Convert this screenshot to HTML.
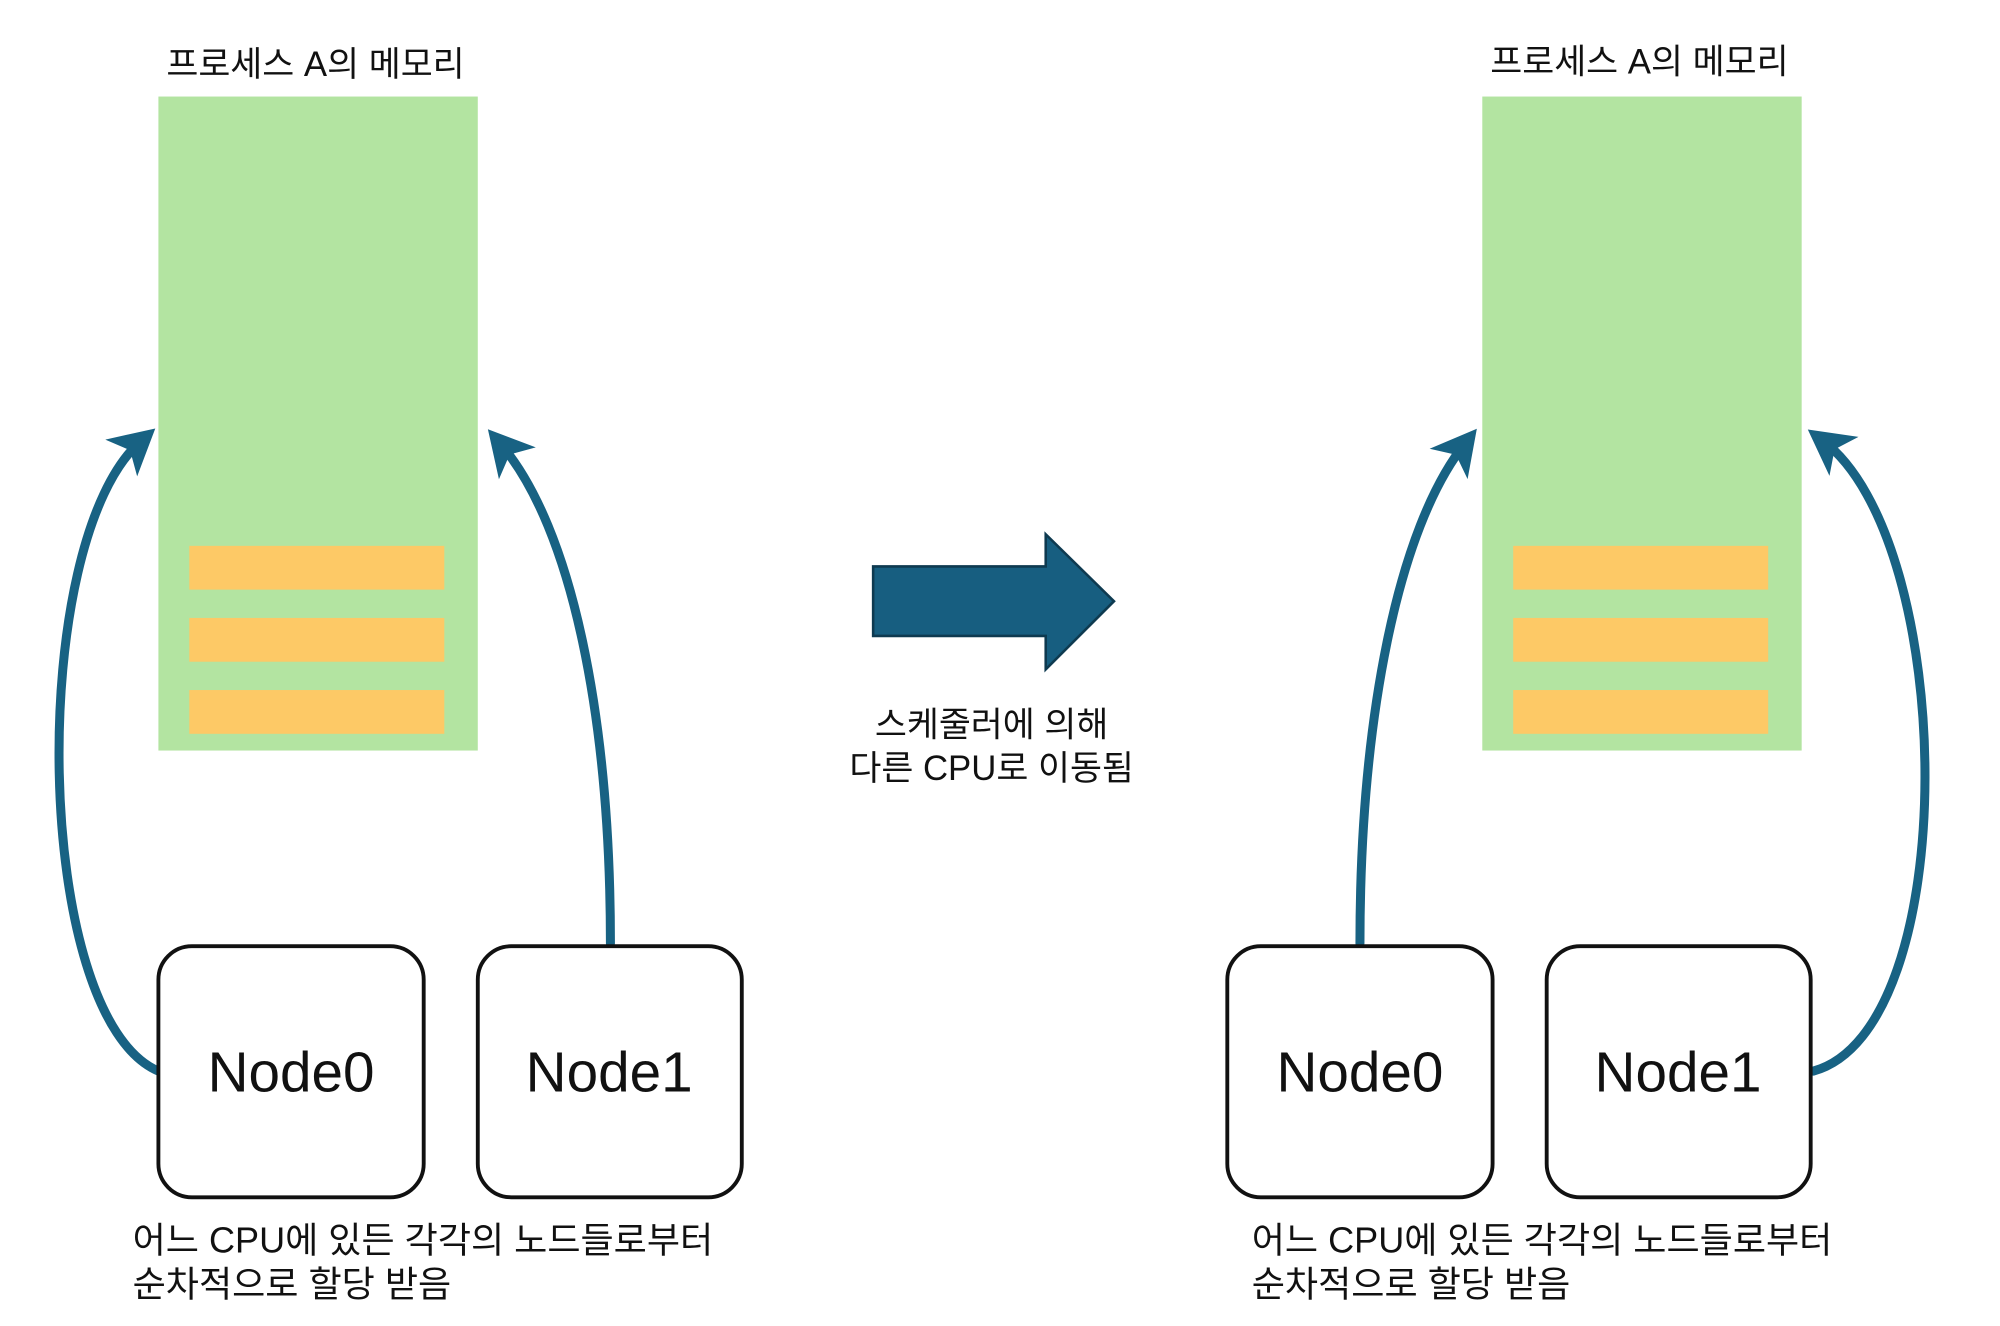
<!DOCTYPE html>
<html><head><meta charset="utf-8"><style>
html,body{margin:0;padding:0;background:#fff;}
svg{display:block;}
text{font-family:"Liberation Sans","Noto Sans CJK KR","NanumGothic",sans-serif;fill:#111;}
</style></head><body>
<svg width="2000" height="1326" viewBox="0 0 1553 1030" preserveAspectRatio="none" xmlns="http://www.w3.org/2000/svg">
<defs>
<marker id="ah" markerWidth="6" markerHeight="6" refX="3" refY="3" orient="auto" markerUnits="strokeWidth">
<path d="M0,0.3 L5,3 L0,5.7 L1.3,3 Z" fill="#186283"/>
</marker>
</defs>
<!-- titles -->
<text x="245" y="59" font-size="27" text-anchor="middle">프로세스 A의 메모리</text>
<text x="1273" y="57" font-size="27" text-anchor="middle">프로세스 A의 메모리</text>
<!-- memory blocks -->
<rect x="123" y="75" width="248" height="508" fill="#b3e4a1"/>
<rect x="147" y="424" width="198" height="34" fill="#fdc966"/>
<rect x="147" y="480" width="198" height="34" fill="#fdc966"/>
<rect x="147" y="536" width="198" height="34" fill="#fdc966"/>
<rect x="1151" y="75" width="248" height="508" fill="#b3e4a1"/>
<rect x="1175" y="424" width="198" height="34" fill="#fdc966"/>
<rect x="1175" y="480" width="198" height="34" fill="#fdc966"/>
<rect x="1175" y="536" width="198" height="34" fill="#fdc966"/>
<!-- curved arrows -->
<g fill="none" stroke="#186283" stroke-width="7" stroke-linecap="round">
<path d="M123,832 C25,790 20,420 110,342" marker-end="url(#ah)"/>
<path d="M474,733 C474,560 445,410 388,344" marker-end="url(#ah)"/>
<path d="M1056,733 C1056,560 1085,410 1138,344" marker-end="url(#ah)"/>
<path d="M1408,832 C1525,800 1520,420 1415,342" marker-end="url(#ah)"/>
</g>
<!-- nodes -->
<g fill="#fff" stroke="#111" stroke-width="3">
<rect x="123" y="735" width="206" height="195" rx="26"/>
<rect x="371" y="735" width="205" height="195" rx="26"/>
<rect x="953" y="735" width="206" height="195" rx="26"/>
<rect x="1201" y="735" width="205" height="195" rx="26"/>
</g>
<g font-size="44" text-anchor="middle">
<text x="226" y="848">Node0</text>
<text x="473" y="848">Node1</text>
<text x="1056" y="848">Node0</text>
<text x="1303" y="848">Node1</text>
</g>
<!-- big arrow -->
<path d="M678,440 L812,440 L812,415 L865,467 L812,520 L812,494 L678,494 Z" fill="#175e80" stroke="#0e3a50" stroke-width="2"/>
<text x="770" y="572" font-size="27" text-anchor="middle">스케줄러에 의해</text>
<text x="770" y="606" font-size="27" text-anchor="middle">다른 CPU로 이동됨</text>
<!-- bottom text -->
<text x="103" y="973" font-size="28">어느 CPU에 있든 각각의 노드들로부터</text>
<text x="103" y="1007" font-size="28">순차적으로 할당 받음</text>
<text x="972" y="973" font-size="28">어느 CPU에 있든 각각의 노드들로부터</text>
<text x="972" y="1007" font-size="28">순차적으로 할당 받음</text>
</svg>
</body></html>
